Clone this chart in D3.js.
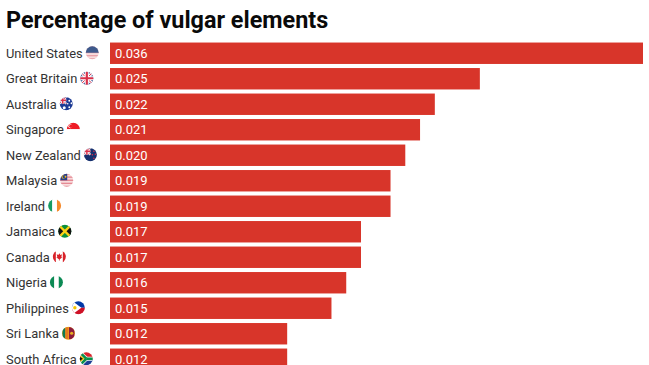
<!DOCTYPE html>
<html><head><meta charset="utf-8">
<script src="https://cdn.jsdelivr.net/npm/d3@7/dist/d3.min.js"></script>
<style>html,body{margin:0;padding:0;background:#fff;overflow:hidden}svg{display:block}text{font-family:Roboto,sans-serif}</style>
</head><body><div id="c"></div>
<script>
const titleText = "Percentage of vulgar elements";
const countries = ["United States","Great Britain","Australia","Singapore","New Zealand","Malaysia","Ireland","Jamaica","Canada","Nigeria","Philippines","Sri Lanka","South Africa"];
const values = [0.0361,0.02505,0.022,0.021,0.020,0.019,0.019,0.017,0.017,0.016,0.015,0.012,0.012];
const valueLabels = ["0.036","0.025","0.022","0.021","0.020","0.019","0.019","0.017","0.017","0.016","0.015","0.012","0.012"];
const flagCodes = ["us","gb","au","sg","nz","my","ie","jm","ca","ng","ph","lk","za"];

const W=649,H=365,R=6.5;
const svg=d3.select("#c").append("svg").attr("width",W).attr("height",H);
const defs=svg.append("defs");
defs.append("clipPath").attr("id","fc").append("circle").attr("r",R);

svg.append("text").attr("x",6).attr("y",28).attr("font-size",23.4).attr("font-weight",700).attr("fill","#0a0a0a").text(titleText);

const x=d3.scaleLinear().domain([0,0.0361]).range([110,643]);
const y=d3.scaleBand().domain(countries).range([40.5,40.5+25.5*countries.length]).paddingInner(0.16).paddingOuter(0.08);

svg.selectAll("rect.bar").data(countries).join("rect").attr("class","bar")
  .attr("x",x(0)).attr("y",d=>y(d)).attr("height",y.bandwidth())
  .attr("width",(d,i)=>x(values[i])-x(0)).attr("fill","#d8352a");
svg.selectAll("text.val").data(countries).join("text").attr("class","val")
  .attr("x",x(0)+5).attr("y",d=>y(d)+y.bandwidth()/2+4.5).attr("font-size",13).attr("fill","#fff")
  .text((d,i)=>valueLabels[i]);
const labels=svg.selectAll("text.lab").data(countries).join("text").attr("class","lab")
  .attr("x",6).attr("y",d=>y(d)+y.bandwidth()/2+4.5).attr("font-size",12.9).attr("fill","#333")
  .text(d=>d);

function rect(g,x0,y0,w,h,c){g.append("rect").attr("x",x0).attr("y",y0).attr("width",w).attr("height",h).attr("fill",c);}
function poly(g,p,c){g.append("polygon").attr("points",p).attr("fill",c);}
function line(g,a,b,c,d,col,w){g.append("line").attr("x1",a).attr("y1",b).attr("x2",c).attr("y2",d).attr("stroke",col).attr("stroke-width",w);}
function dot(g,a,b,r,c){g.append("circle").attr("cx",a).attr("cy",b).attr("r",r).attr("fill",c);}
function stripes(g,n,a,b){for(let i=0;i<n;i++)rect(g,-7,-7+i*14/n,14,14/n,i%2?b:a);}
function ukCanton(g,s){
  line(g,-7,-7,s,s,"#fff",2);line(g,-7,s,s,-7,"#fff",2);
  line(g,-7,-7,s,s,"#d8304a",.8);line(g,-7,s,s,-7,"#d8304a",.8);
  const m=(s-7)/2;
  line(g,m,-7,m,s,"#fff",2.6);line(g,-7,m,s,m,"#fff",2.6);
  line(g,m,-7,m,s,"#d8304a",1.5);line(g,-7,m,s,m,"#d8304a",1.5);
}
const painters={
 us(g){stripes(g,9,"#e79aa2","#f7dcdc");rect(g,-7,-7,14,7,"#3e5a8c");},
 gb(g){rect(g,-7,-7,14,14,"#2a4a8c");
   line(g,-7,-7,7,7,"#fff",3);line(g,-7,7,7,-7,"#fff",3);
   line(g,-7,-7,7,7,"#d8304a",1);line(g,-7,7,7,-7,"#d8304a",1);
   line(g,0,-7,0,7,"#fff",4);line(g,-7,0,7,0,"#fff",4);
   line(g,0,-7,0,7,"#d8304a",2.2);line(g,-7,0,7,0,"#d8304a",2.2);},
 au(g){rect(g,-7,-7,14,14,"#1c3a94");ukCanton(g,0);
   [[-2,4,1.5],[3,-3,.9],[5.2,-.5,.9],[3,3.5,.9],[1.5,0,.8]].forEach(s=>dot(g,s[0],s[1],s[2],"#fff"));},
 sg(g){rect(g,-7,-7,14,7,"#ee1c25");rect(g,-7,0,14,7,"#fff");dot(g,-3,-3,2,"#fff");dot(g,-2.3,-3,1.8,"#ee1c25");},
 nz(g){rect(g,-7,-7,14,14,"#16306e");ukCanton(g,0);
   [[3.5,-3.5],[5,-.5],[2,0],[3.5,3.5]].forEach(s=>dot(g,s[0],s[1],.8,"#d8304a"));},
 my(g){stripes(g,9,"#e58a94","#f8dcdc");rect(g,-7,-7,7.5,7,"#2b3f88");dot(g,-3.2,-3.5,2,"#f3c316");dot(g,-2.5,-3.5,1.7,"#2b3f88");dot(g,-1.2,-3.5,.9,"#f3c316");},
 ie(g){rect(g,-7,-7,4.67,14,"#169b62");rect(g,-2.33,-7,4.67,14,"#fff");rect(g,2.33,-7,4.67,14,"#f58a2c");},
 jm(g){rect(g,-7,-7,14,14,"#0a8f3c");poly(g,"-7,-7 0,0 -7,7","#111");poly(g,"7,-7 0,0 7,7","#111");
   line(g,-7,-7,7,7,"#fcd116",2.4);line(g,-7,7,7,-7,"#fcd116",2.4);},
 ca(g){rect(g,-7,-7,14,14,"#fff");rect(g,-7,-7,3.5,14,"#d8232a");rect(g,3.5,-7,3.5,14,"#d8232a");
   poly(g,"0,-3.6 1,-1.8 2.6,-2.4 2,.4 3.2,.6 .4,2.6 .4,3.8 -.4,3.8 -.4,2.6 -3.2,.6 -2,.4 -2.6,-2.4 -1,-1.8","#d8232a");},
 ng(g){rect(g,-7,-7,14,14,"#fff");rect(g,-7,-7,4.67,14,"#0b8a54");rect(g,2.33,-7,4.67,14,"#0b8a54");},
 ph(g){rect(g,-7,-7,14,7,"#0038a8");rect(g,-7,0,14,7,"#ce1126");poly(g,"-7,-7.5 3,0 -7,7.5","#fff");dot(g,-3.5,0,1.7,"#f4c400");},
 lk(g){rect(g,-7,-7,14,14,"#f0a81c");rect(g,-6,-6,2.8,12,"#0f7a52");rect(g,-3,-6,2.8,12,"#e8781e");rect(g,.5,-6,5.5,12,"#8d1b3d");dot(g,3.2,0,1.6,"#e8b020");},
 za(g){rect(g,-7,-7,14,7,"#d8232a");rect(g,-7,0,14,7,"#1c3f94");
   line(g,-7,-7,0,0,"#fff",4);line(g,-7,7,0,0,"#fff",4);rect(g,0,-2,7,4,"#fff");
   line(g,-7,-7,0,0,"#0a8f4c",2.6);line(g,-7,7,0,0,"#0a8f4c",2.6);rect(g,0,-1.3,7,2.6,"#0a8f4c");
   poly(g,"-7,-4 -1.8,0 -7,4","#f4c400");poly(g,"-7,-2.6 -3.4,0 -7,2.6","#111");}
};
labels.each(function(d,i){
  const tx=6+this.getComputedTextLength()+3+R;
  const cy=y(d)+y.bandwidth()/2-.5;
  const g=svg.append("g").attr("class","flag").attr("transform",`translate(${tx},${cy})`).append("g").attr("clip-path","url(#fc)");
  painters[flagCodes[i]](g);
});
</script></body></html>
